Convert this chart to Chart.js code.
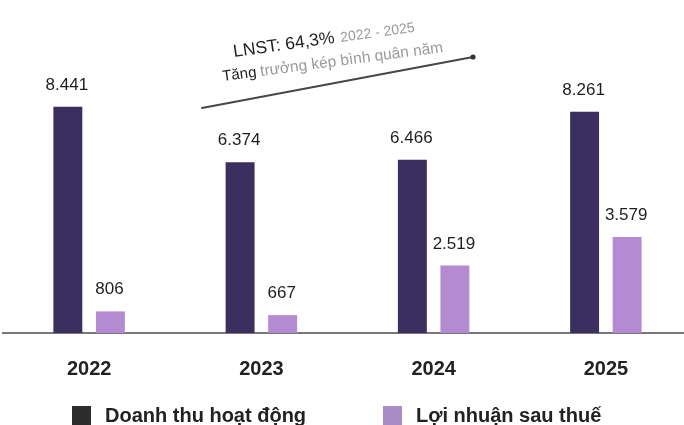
<!DOCTYPE html>
<html>
<head>
<meta charset="utf-8">
<script src="https://cdn.jsdelivr.net/npm/chart.js@4"></script>
<style>
  html, body { margin: 0; padding: 0; background: #fff; overflow: hidden; }
  #chart { display: block; }
</style>
</head>
<body>
<canvas id="chart" width="700" height="425" style="width:700px;height:425px"></canvas>
<script>
// -------------------------------
//  DATA
// -------------------------------
const years = ['2022', '2023', '2024', '2025'];
const revenue = [8441, 6374, 6466, 8261];     // Doanh thu hoạt động
const profit = [806, 667, 2519, 3579];        // Lợi nhuận sau thuế
const seriesNames = ['Doanh thu hoạt động', 'Lợi nhuận sau thuế'];
const noteMain = 'LNST: 64,3%';
const notePeriod = '2022 - 2025';
const noteSub = 'Tăng';
const noteSubRest = 'trưởng kép bình quân năm';

const COLORS = {
    revenue: '#3a2f5e',
    profit: '#b48ad2',
    legendRevenue: '#2c2c2c',
    legendProfit: '#a98bc6',
    text: '#1e1e1e',
    muted: '#9a9a9a',
    axis: '#777777'
};

const FONT = "'Liberation Sans', Arial, sans-serif";

// vi-VN style thousands separator
function fmt(v) {
    return String(v).replace(/\B(?=(\d{3})+(?!\d))/g, '.');
}

// -------------------------------
//  PLUGINS
// -------------------------------
const valueLabels = {
    id: 'valueLabels',
    afterDatasetsDraw(chart) {
        const ctx = chart.ctx;
        ctx.save();
        ctx.font = '17px ' + FONT;
        ctx.fillStyle = COLORS.text;
        ctx.textAlign = 'center';
        ctx.textBaseline = 'alphabetic';
        chart.data.datasets.forEach((ds, di) => {
            chart.getDatasetMeta(di).data.forEach((bar, i) => {
                ctx.fillText(fmt(ds.data[i]), bar.x - 1, bar.y - 17);
            });
        });
        ctx.restore();
    }
};

const growthNote = {
    id: 'growthNote',
    afterDraw(chart) {
        const ctx = chart.ctx;
        ctx.save();
        // arrow-ish line with dot
        ctx.strokeStyle = '#474747';
        ctx.lineWidth = 1.8;
        ctx.lineCap = 'round';
        ctx.beginPath();
        ctx.moveTo(202, 108);
        ctx.lineTo(473, 57);
        ctx.stroke();
        ctx.fillStyle = '#333';
        ctx.beginPath();
        ctx.arc(473, 57, 2.6, 0, Math.PI * 2);
        ctx.fill();
        ctx.restore();

        // line 1
        ctx.save();
        ctx.translate(234, 57);
        ctx.rotate(-8 * Math.PI / 180);
        ctx.textBaseline = 'alphabetic';
        ctx.font = '17.5px ' + FONT;
        ctx.fillStyle = COLORS.text;
        ctx.fillText(noteMain, 0, 0);
        let w = ctx.measureText(noteMain).width;
        ctx.font = '14px ' + FONT;
        ctx.fillStyle = COLORS.muted;
        ctx.fillText(notePeriod, w + 6, 0);
        ctx.restore();

        // line 2
        ctx.save();
        ctx.translate(223, 81);
        ctx.rotate(-7.5 * Math.PI / 180);
        ctx.font = '15px ' + FONT;
        ctx.fillStyle = COLORS.text;
        ctx.fillText(noteSub, 0, 0);
        w = ctx.measureText(noteSub).width;
        ctx.font = '15.5px ' + FONT;
        ctx.fillStyle = COLORS.muted;
        ctx.fillText(noteSubRest, w + 4, 0);
        ctx.restore();
    }
};

// legend drawn by hand so spacing matches
const bottomLegend = {
    id: 'bottomLegend',
    afterDraw(chart) {
        const ctx = chart.ctx;
        const y = chart.chartArea.bottom + 82;   // centre line of legend row
        const starts = [72, 383];
        const boxColors = [COLORS.legendRevenue, COLORS.legendProfit];
        ctx.save();
        ctx.font = 'bold 20px ' + FONT;
        ctx.textBaseline = 'middle';
        chart.data.datasets.forEach((ds, i) => {
            const x = starts[i];
            ctx.fillStyle = boxColors[i];
            ctx.fillRect(x, y - 9, 19, 19);
            ctx.fillStyle = '#222';
            ctx.fillText(ds.label, x + 33, y + 1);
        });
        ctx.restore();
    }
};

// -------------------------------
//  CHART
// -------------------------------
const ctx = document.getElementById('chart').getContext('2d');
new Chart(ctx, {
    type: 'bar',
    data: {
        labels: years,
        datasets: [
            {
                label: seriesNames[0],
                data: revenue,
                backgroundColor: COLORS.revenue,
                barPercentage: 0.68,
                categoryPercentage: 0.494
            },
            {
                label: seriesNames[1],
                data: profit,
                backgroundColor: COLORS.profit,
                barPercentage: 0.68,
                categoryPercentage: 0.494
            }
        ]
    },
    options: {
        responsive: false,
        animation: false,
        layout: { padding: { left: 3, right: 8, top: 0, bottom: 0 } },
        scales: {
            x: {
                grid: { display: false, drawTicks: false },
                border: { display: true, color: COLORS.axis, width: 2 },
                ticks: {
                    color: '#222',
                    padding: 24,
                    font: { family: FONT, size: 20, weight: 'bold' }
                },
                afterFit(scale) { scale.height = 92; }
            },
            y: {
                display: false,
                min: 0,
                max: 12430
            }
        },
        plugins: {
            legend: { display: false },
            tooltip: { enabled: false }
        }
    },
    plugins: [valueLabels, growthNote, bottomLegend]
});
</script>
</body>
</html>
